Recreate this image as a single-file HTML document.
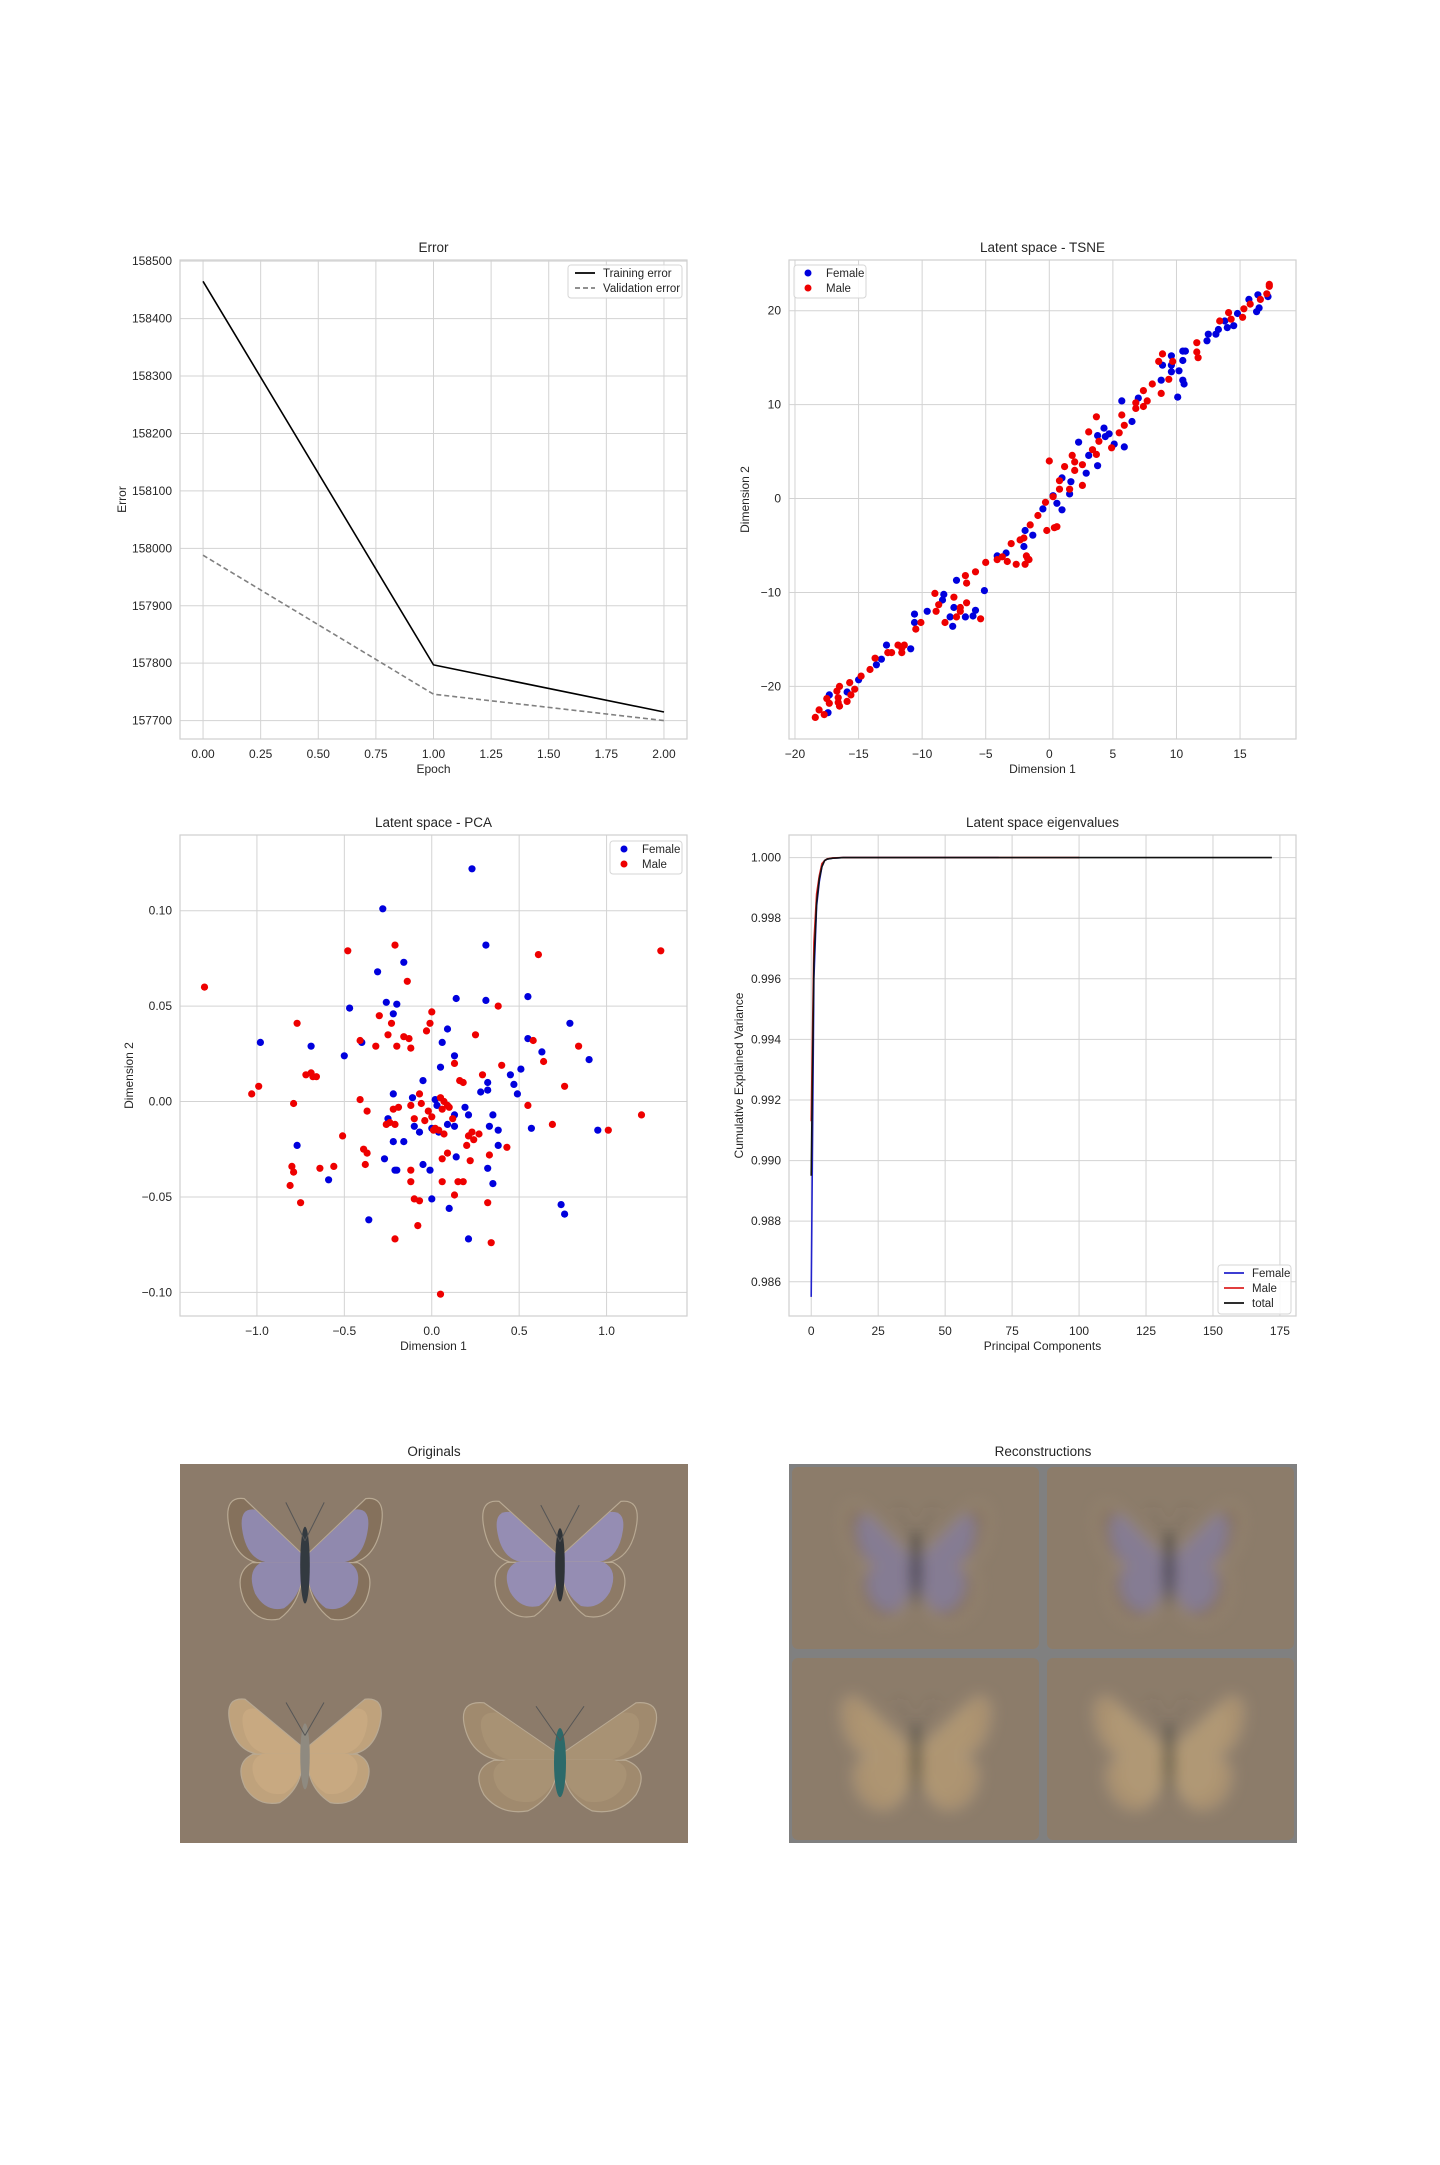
<!DOCTYPE html>
<html><head><meta charset="utf-8">
<style>
html,body{margin:0;padding:0;background:#fff;}
svg text{font-family:"Liberation Sans","DejaVu Sans",sans-serif;fill:#262626;}
</style></head>
<body>
<svg id="fig" width="1440" height="2160" viewBox="0 0 1440 2160" xmlns="http://www.w3.org/2000/svg">
<defs>
<filter id="blur" x="-30%" y="-30%" width="160%" height="160%"><feGaussianBlur stdDeviation="7"/></filter>
</defs>
</svg>
<script>
// ===== Error chart data =====
const epochs=[0,1,2];
const trainErr=[158465,157797,157715];
const valErr=[157988,157746,157700];
const errXTicks=[0,0.25,0.5,0.75,1,1.25,1.5,1.75,2];
const errXTickLabels=["0.00","0.25","0.50","0.75","1.00","1.25","1.50","1.75","2.00"];
const errYTicks=[157700,157800,157900,158000,158100,158200,158300,158400,158500];

// ===== TSNE data =====
const tsneFemaleX=[-17.3,-17.4,-15.9,-15.0,-13.6,-13.2,-12.8,-10.9,-10.6,-10.6,-9.6,-8.4,-8.3,-7.8,-7.6,-7.5,-7.3,-6.6,-6.0,-5.8,-5.1,-4.1,-3.4,-2.0,-1.9,-1.3,-0.5,0.3,0.6,1.0,1.0,1.6,1.7,2.3,2.9,3.1,3.8,3.8,4.3,4.4,4.7,5.1,5.7,5.9,6.5,7.0,8.8,8.9,9.6,9.6,9.6,10.2,10.1,10.5,10.5,10.7,10.5,10.6,12.4,12.5,13.1,13.3,14.0,13.8,14.5,14.8,15.7,16.3,16.5,16.4,17.2];
const tsneFemaleY=[-20.9,-22.8,-20.6,-19.3,-17.7,-17.1,-15.6,-16.0,-12.3,-13.2,-12.0,-10.8,-10.2,-12.6,-13.6,-11.6,-8.7,-12.6,-12.5,-11.9,-9.8,-6.1,-5.8,-5.1,-3.4,-3.9,-1.1,0.3,-0.5,-1.2,2.2,0.5,1.8,6.0,2.7,4.6,3.5,6.7,7.5,6.6,6.9,5.8,10.4,5.5,8.2,10.7,12.6,14.2,15.2,14.2,13.5,13.6,10.8,14.7,15.7,15.7,12.6,12.2,16.8,17.5,17.5,18.0,18.2,18.9,18.4,19.7,21.2,19.9,20.3,21.7,21.5];
const tsneMaleX=[-18.4,-18.1,-17.7,-17.5,-17.3,-16.7,-16.5,-16.6,-16.5,-16.6,-15.9,-15.6,-15.7,-15.3,-14.8,-14.1,-13.7,-12.7,-12.4,-11.9,-11.6,-11.6,-11.4,-10.5,-10.1,-9.0,-8.9,-8.7,-8.2,-7.5,-7.3,-7.0,-7.0,-6.6,-6.5,-6.5,-5.8,-5.4,-5.0,-4.1,-3.7,-3.3,-3.0,-2.6,-2.3,-2.0,-1.9,-1.8,-1.7,-1.6,-1.5,-0.9,-0.3,-0.2,0.0,0.3,0.4,0.6,0.8,0.8,1.2,1.6,1.8,2.0,2.0,2.6,2.6,3.1,3.4,3.7,3.7,3.9,4.9,5.5,5.7,5.9,6.8,6.8,7.4,7.4,7.7,8.1,8.6,8.8,8.9,9.4,9.7,11.6,11.6,11.7,13.4,14.1,14.3,15.2,15.3,15.8,16.6,17.1,17.3,17.3];
const tsneMaleY=[-23.3,-22.5,-23.0,-21.3,-21.8,-20.5,-20.0,-21.2,-22.1,-21.7,-21.6,-20.9,-19.6,-20.3,-18.9,-18.2,-17.0,-16.4,-16.4,-15.6,-15.9,-16.4,-15.6,-13.9,-13.2,-10.1,-12.0,-11.3,-13.2,-10.5,-12.6,-11.6,-12.0,-8.2,-9.0,-11.1,-7.8,-12.8,-6.8,-6.5,-6.2,-6.7,-4.8,-7.0,-4.4,-4.2,-7.0,-6.1,-6.4,-6.5,-2.8,-1.8,-0.4,-3.4,4.0,0.2,-3.1,-3.0,1.0,1.9,3.4,1.0,4.6,3.0,3.9,3.6,1.4,7.1,5.2,8.7,4.7,6.1,5.4,7.0,8.9,7.8,10.2,9.6,11.5,9.8,10.4,12.2,14.6,11.2,15.4,12.7,14.6,16.6,15.6,15.0,18.9,19.8,19.1,19.3,20.2,20.7,21.2,21.8,22.8,22.6];
const tsneXTicks=[-20,-15,-10,-5,0,5,10,15];
const tsneYTicks=[-20,-10,0,10,20];

// ===== PCA data =====
const pcaFemaleX=[0.23,-0.28,0.31,-0.16,-0.31,0.14,0.31,0.55,-0.47,-0.26,-0.20,-0.22,0.09,0.79,-0.98,-0.40,0.06,0.55,-0.69,0.63,-0.50,0.13,0.90,0.05,0.51,-0.05,0.45,0.47,0.32,0.28,0.32,0.49,-0.22,-0.11,0.02,0.03,0.19,0.13,0.21,0.35,-0.25,-0.10,0.09,0.13,0.00,0.33,0.38,0.57,0.95,-0.07,-0.22,-0.16,0.04,-0.77,0.38,-0.27,0.14,-0.05,0.32,-0.01,-0.21,-0.20,-0.59,0.35,0.00,0.10,0.74,0.76,-0.36,0.21];
const pcaFemaleY=[0.122,0.101,0.082,0.073,0.068,0.054,0.053,0.055,0.049,0.052,0.051,0.046,0.038,0.041,0.031,0.031,0.031,0.033,0.029,0.026,0.024,0.024,0.022,0.018,0.017,0.011,0.014,0.009,0.010,0.005,0.006,0.004,0.004,0.002,0.001,-0.002,-0.003,-0.007,-0.007,-0.007,-0.009,-0.013,-0.012,-0.013,-0.014,-0.013,-0.015,-0.014,-0.015,-0.016,-0.021,-0.021,-0.016,-0.023,-0.023,-0.030,-0.029,-0.033,-0.035,-0.036,-0.036,-0.036,-0.041,-0.043,-0.051,-0.056,-0.054,-0.059,-0.062,-0.072];
const pcaMaleX=[-1.30,-0.48,-0.21,0.61,1.31,-0.14,0.38,0.00,-0.30,-0.77,-0.23,-0.01,-0.03,0.25,-0.41,-0.25,-0.16,-0.13,0.58,-0.32,-0.20,-0.12,0.84,0.13,0.64,-0.72,-0.69,-0.68,-0.66,0.29,0.16,0.18,0.40,0.76,-0.99,-1.03,-0.41,-0.79,-0.07,-0.06,-0.12,0.05,0.07,0.09,0.10,0.06,-0.22,-0.19,-0.02,0.00,-0.37,0.55,1.20,-0.10,-0.04,-0.26,-0.24,-0.21,0.69,0.12,0.02,0.04,0.01,0.07,0.23,0.27,0.21,0.24,-0.51,1.01,0.20,0.43,-0.39,-0.37,0.09,0.06,0.22,0.33,-0.80,-0.79,-0.64,-0.56,-0.38,-0.12,-0.12,0.06,0.15,0.18,-0.81,-0.75,-0.10,-0.07,0.13,0.32,-0.08,-0.21,0.34,0.05];
const pcaMaleY=[0.060,0.079,0.082,0.077,0.079,0.063,0.050,0.047,0.045,0.041,0.041,0.041,0.037,0.035,0.032,0.035,0.034,0.033,0.032,0.029,0.029,0.028,0.029,0.020,0.021,0.014,0.015,0.013,0.013,0.014,0.011,0.010,0.019,0.008,0.008,0.004,0.001,-0.001,0.004,-0.001,-0.002,0.002,0.000,-0.002,-0.003,-0.004,-0.004,-0.003,-0.005,-0.008,-0.005,-0.002,-0.007,-0.009,-0.010,-0.012,-0.011,-0.012,-0.012,-0.009,-0.014,-0.015,-0.015,-0.017,-0.016,-0.017,-0.018,-0.020,-0.018,-0.015,-0.023,-0.024,-0.025,-0.027,-0.027,-0.030,-0.031,-0.028,-0.034,-0.037,-0.035,-0.034,-0.033,-0.036,-0.042,-0.042,-0.042,-0.042,-0.044,-0.053,-0.051,-0.052,-0.049,-0.053,-0.065,-0.072,-0.074,-0.101];
const pcaXTicks=[-1.0,-0.5,0.0,0.5,1.0];
const pcaXTickLabels=["\u22121.0","\u22120.5","0.0","0.5","1.0"];
const pcaYTicks=[-0.10,-0.05,0,0.05,0.10];
const pcaYTickLabels=["\u22120.10","\u22120.05","0.00","0.05","0.10"];

// ===== Eigenvalue data =====
const eigFemaleX=[0,1,2,3,4,5,6,8,12,70];
const eigFemaleY=[0.9855,0.9960,0.9984,0.9992,0.9997,0.9999,0.99995,0.99998,1.0,1.0];
const eigMaleX=[0,1,2,3,4,5,6,8,12,100];
const eigMaleY=[0.9913,0.9972,0.9988,0.9994,0.9998,0.9999,0.99996,0.99999,1.0,1.0];
const eigTotalX=[0,1,2,3,4,5,6,8,12,172];
const eigTotalY=[0.9895,0.9965,0.9985,0.9993,0.9997,0.9999,0.99995,0.99998,1.0,1.0];
const eigXTicks=[0,25,50,75,100,125,150,175];
const eigYTicks=[0.986,0.988,0.990,0.992,0.994,0.996,0.998,1.000];

const NS="http://www.w3.org/2000/svg";
const svg=document.getElementById('fig');
function mk(tag,attrs,parent){const e=document.createElementNS(NS,tag);for(const k in attrs)e.setAttribute(k,attrs[k]);(parent||svg).appendChild(e);return e;}
function txt(s,x,y,size,anchor,parent,rot){const t=mk('text',{x:x,y:y,'font-size':size,'text-anchor':anchor||'middle'},parent);if(rot)t.setAttribute('transform','rotate(-90 '+x+' '+y+')');t.textContent=s;return t;}
function scale(d0,d1,p0,p1){return v=>p0+(v-d0)/(d1-d0)*(p1-p0);}
function fmtNeg(v){return v<0?"\u2212"+Math.abs(v):String(v);}

function axes(name,box,xlim,ylim,xt,xl,yt,yl,title,xlabel,ylabel){
  const g=mk('g',{});
  
  
  const sx=scale(xlim[0],xlim[1],box.x0,box.x1), sy=scale(ylim[0],ylim[1],box.y1,box.y0);
  mk('rect',{x:box.x0,y:box.y0,width:box.x1-box.x0,height:box.y1-box.y0,fill:'#fff',stroke:'none'},g);
  xt.forEach((v,i)=>{const x=sx(v);const l=mk('line',{x1:x,x2:x,y1:box.y0,y2:box.y1,stroke:'#d3d3d3','stroke-width':1},g);
    
    const t=txt(xl[i],x,box.y1+19,12,'middle',g);});
  yt.forEach((v,i)=>{const y=sy(v);const l=mk('line',{x1:box.x0,x2:box.x1,y1:y,y2:y,stroke:'#d3d3d3','stroke-width':1},g);
    
    const t=txt(yl[i],box.x0-8,y+4,12,'end',g);});
  mk('rect',{x:box.x0,y:box.y0,width:box.x1-box.x0,height:box.y1-box.y0,fill:'none',stroke:'#cfcfcf','stroke-width':1.2},g);
  const tt=txt(title,(box.x0+box.x1)/2,box.y0-8,13.5,'middle',g);
  const xa=txt(xlabel,(box.x0+box.x1)/2,box.y1+34,12,'middle',g);
  const ya=txt(ylabel,box.yl,(box.y0+box.y1)/2,12,'middle',g,true);
  return {g,sx,sy};
}
function legendBox(g,x,y,w,h){const r=mk('rect',{x:x,y:y,width:w,height:h,rx:3,fill:'#fff','fill-opacity':0.85,stroke:'#d6d6d6'},g);}
function legendLine(g,x,y,label,color,dash){const l=mk('line',{x1:x,x2:x+20,y1:y,y2:y,stroke:color,'stroke-width':1.8},g);if(dash)l.setAttribute('stroke-dasharray',dash);
  
  const t=txt(label,x+28,y+4,11.5,'start',g);}
function legendDot(g,x,y,label,color){const c=mk('circle',{cx:x,cy:y,r:3.5,fill:color},g);
  const t=txt(label,x+18,y+4,11.5,'start',g);}
function polyline(g,xs,ys,a,color,w,dash,name){const pts=xs.map((v,i)=>a.sx(v).toFixed(1)+','+a.sy(ys[i]).toFixed(1)).join(' ');
  const p=mk('polyline',{points:pts,fill:'none',stroke:color,'stroke-width':w,'stroke-linejoin':'round'},g);if(dash)p.setAttribute('stroke-dasharray',dash);
  }
function scatter(g,xs,ys,a,color,name){xs.forEach((v,i)=>{const c=mk('circle',{cx:a.sx(v).toFixed(1),cy:a.sy(ys[i]).toFixed(1),r:3.6,fill:color},g);
  });}

// Error chart
let A=axes('error-chart',{x0:180,x1:687,y0:260,y1:739,yl:126},[-0.1,2.1],[157668,158502],errXTicks,errXTickLabels,errYTicks,errYTicks.map(String),'Error','Epoch','Error');
polyline(A.g,epochs,valErr,A,'#808080',1.6,'5,3','validation-error-line');
polyline(A.g,epochs,trainErr,A,'#000',1.6,null,'training-error-line');
legendBox(A.g,568,265,114,33);
legendLine(A.g,575,273,'Training error','#000');
legendLine(A.g,575,288,'Validation error','#808080','5,3');

// TSNE chart
A=axes('tsne-chart',{x0:789,x1:1296,y0:260,y1:739,yl:749},[-20.47,19.4],[-25.6,25.4],tsneXTicks,tsneXTicks.map(fmtNeg),tsneYTicks,tsneYTicks.map(fmtNeg),'Latent space - TSNE','Dimension 1','Dimension 2');
scatter(A.g,tsneFemaleX,tsneFemaleY,A,'#0000dd','tsne-female-point');
scatter(A.g,tsneMaleX,tsneMaleY,A,'#ee0000','tsne-male-point');
legendBox(A.g,794,265,72,33);
legendDot(A.g,808,273,'Female','#0000dd');
legendDot(A.g,808,288,'Male','#ee0000');

// PCA chart
A=axes('pca-chart',{x0:180,x1:687,y0:835,y1:1316,yl:133},[-1.44,1.46],[-0.1124,0.1397],pcaXTicks,pcaXTickLabels,pcaYTicks,pcaYTickLabels,'Latent space - PCA','Dimension 1','Dimension 2');
scatter(A.g,pcaFemaleX,pcaFemaleY,A,'#0000dd','pca-female-point');
scatter(A.g,pcaMaleX,pcaMaleY,A,'#ee0000','pca-male-point');
legendBox(A.g,610,841,72,33);
legendDot(A.g,624,849,'Female','#0000dd');
legendDot(A.g,624,864,'Male','#ee0000');

// Eigen chart
A=axes('eigenvalues-chart',{x0:789,x1:1296,y0:835,y1:1316,yl:743},[-8.3,181],[0.98487,1.000746],eigXTicks,eigXTicks.map(String),eigYTicks,eigYTicks.map(v=>v.toFixed(3)),'Latent space eigenvalues','Principal Components','Cumulative Explained Variance');
polyline(A.g,eigFemaleX,eigFemaleY,A,'#2222cc',1.6,null,'female-variance-line');
polyline(A.g,eigMaleX,eigMaleY,A,'#dd2222',1.6,null,'male-variance-line');
polyline(A.g,eigTotalX,eigTotalY,A,'#111',1.6,null,'total-variance-line');
legendBox(A.g,1218,1265,73,49);
legendLine(A.g,1224,1273,'Female','#2222cc');
legendLine(A.g,1224,1288,'Male','#dd2222');
legendLine(A.g,1224,1303,'total','#111');

// Butterflies
function wingPath(cx,cy,W,H,s,k,fore){
  // k = shrink factor toward body
  const P=(dx,dy)=>(cx+s*dx*W*k).toFixed(1)+','+(cy+dy*H*k).toFixed(1);
  if(fore) return 'M'+P(0.02,-0.05)+' L'+P(0.38,-0.48)+' Q'+P(0.5,-0.5)+' '+P(0.48,-0.3)+' Q'+P(0.45,-0.02)+' '+P(0.3,0.02)+' L'+P(0.02,0.04)+' Z';
  return 'M'+P(0.02,0.02)+' L'+P(0.33,0.02)+' Q'+P(0.45,0.1)+' '+P(0.38,0.32)+' Q'+P(0.3,0.5)+' '+P(0.16,0.46)+' Q'+P(0.04,0.35)+' '+P(0.02,0.15)+' Z';
}
function butterfly(parent,cx,cy,W,H,wingCol,edgeCol,bodyCol,name,blur){
  const g=mk('g',{},parent);
  
  
  if(blur)g.setAttribute('filter','url(#blur)');
  [-1,1].forEach(s=>{
    mk('path',{d:wingPath(cx,cy,W,H,s,1,true),fill:edgeCol,'stroke':'#b8a993','stroke-width':1.2},g);
    mk('path',{d:wingPath(cx,cy,W,H,s,0.82,true),fill:wingCol},g);
    mk('path',{d:wingPath(cx,cy,W,H,s,1,false),fill:edgeCol,'stroke':'#b8a993','stroke-width':1.2},g);
    mk('path',{d:wingPath(cx,cy,W,H,s,0.82,false),fill:wingCol},g);
  });
  mk('ellipse',{cx:cx,cy:cy+0.04*H,rx:Math.max(4,W*0.03),ry:0.3*H,fill:bodyCol},g);
  [-1,1].forEach(s=>mk('line',{x1:cx,y1:cy-0.15*H,x2:cx+s*0.12*W,y2:cy-0.45*H,stroke:'#555',"stroke-width":1},g));
}
const orig=mk('g',{});


mk('rect',{x:180,y:1464,width:508,height:379,fill:'#8c7b6a'},orig);
let t=txt('Originals',434,1456,13.5,'middle',orig);
butterfly(orig,305,1560,160,128,'#9089ae','#85715c','#333a40','butterfly-original-1');
butterfly(orig,560,1560,160,122,'#958db3','#8d7a66','#2f3337','butterfly-original-2');
butterfly(orig,305,1752,158,110,'#c8a981','#bfa27c','#8f8a80','butterfly-original-3');
butterfly(orig,560,1758,200,115,'#a89274','#a08a6e','#2c6a6a','butterfly-original-4');

const rec=mk('g',{});


mk('rect',{x:789,y:1464,width:508,height:379,fill:'#808080'},rec);
[[792,1467],[1047,1467],[792,1658],[1047,1658]].forEach(([x,y])=>mk('rect',{x:x,y:y,width:247,height:182,rx:6,fill:'#8c7c6a'},rec));
t=txt('Reconstructions',1043,1456,13.5,'middle',rec);
butterfly(rec,916,1564,150,125,'#857b93','#877460','#2a2a2a','butterfly-reconstruction-1',true);
butterfly(rec,1169,1564,150,125,'#857b93','#877460','#2a2a2a','butterfly-reconstruction-2',true);
butterfly(rec,916,1754,155,120,'#ae9572','#a88f6e','#4a4a40','butterfly-reconstruction-3',true);
butterfly(rec,1169,1754,155,120,'#b09874','#a88f6e','#4a4a40','butterfly-reconstruction-4',true);
</script>
</body></html>
